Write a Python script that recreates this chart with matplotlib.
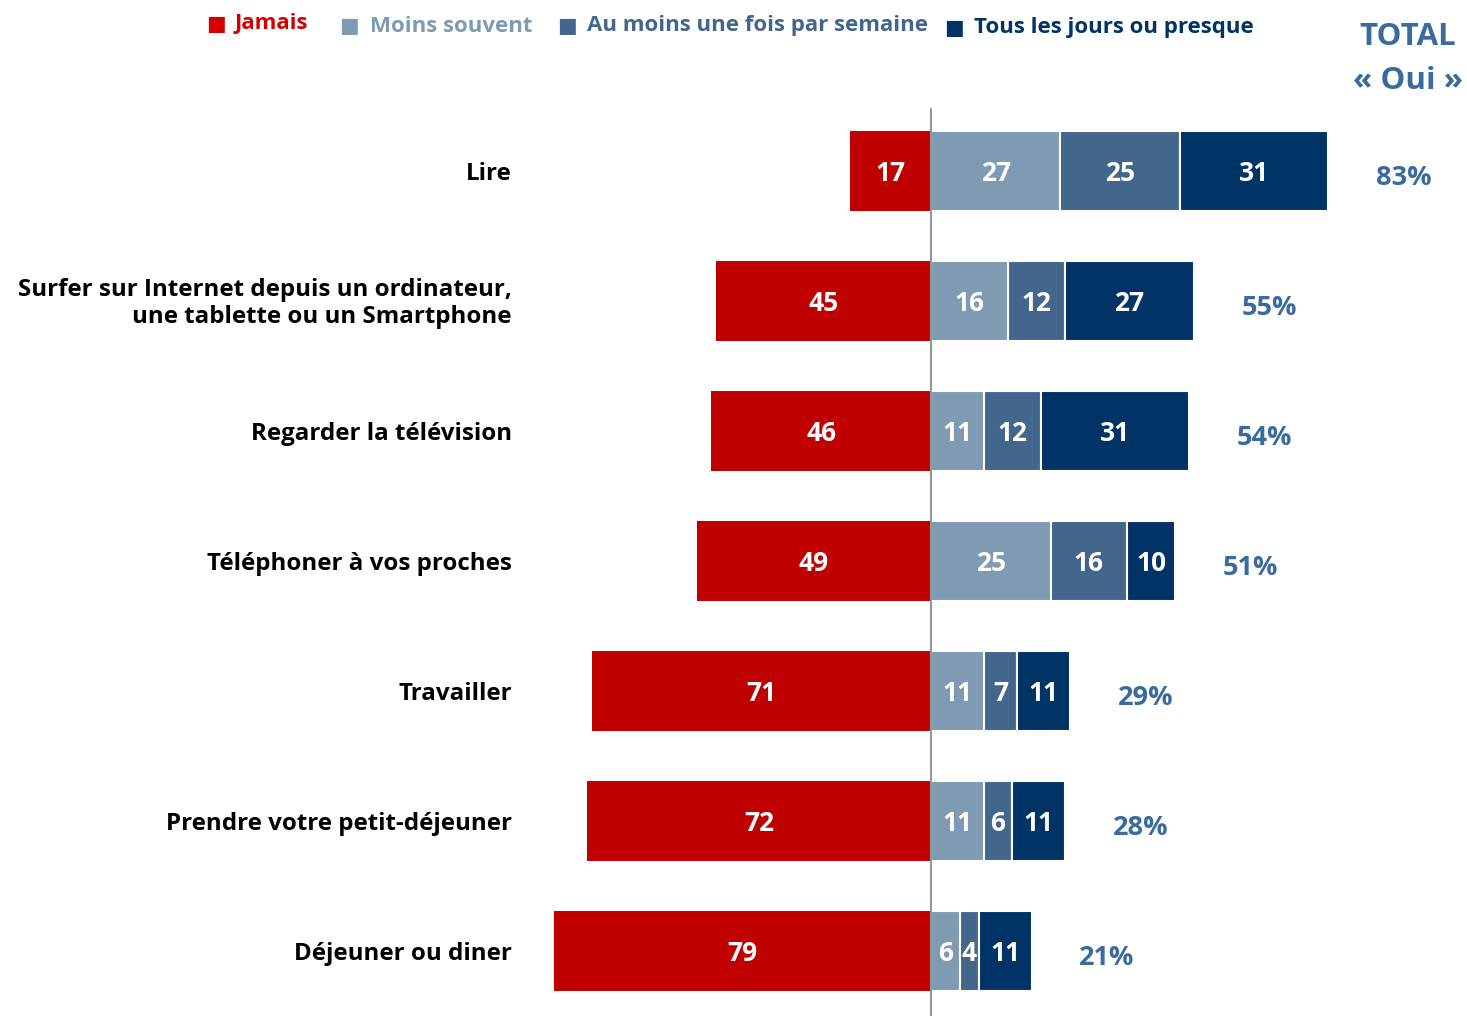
import matplotlib
matplotlib.use('Agg')
import matplotlib.pyplot as plt
import numpy as np

plt.rcParams['font.family'] = ['Open Sans', 'DejaVu Sans']

# Data
activities = ["Lire",
              "Surfer sur Internet depuis un ordinateur,\nune tablette ou un Smartphone",
              "Regarder la télévision",
              "Téléphoner à vos proches",
              "Travailler",
              "Prendre votre petit-déjeuner",
              "Déjeuner ou diner"]
jamais = [17, 45, 46, 49, 71, 72, 79]
moins_souvent = [27, 16, 11, 25, 11, 11, 6]
semaine = [25, 12, 12, 16, 7, 6, 4]
tous_les_jours = [31, 27, 31, 10, 11, 11, 11]
total_oui = [83, 55, 54, 51, 29, 28, 21]

series_names = ["Jamais", "Moins souvent", "Au moins une fois par semaine", "Tous les jours ou presque"]
colors = ["#C00000", "#7F9AB3", "#42668C", "#003366"]
legend_colors = ["#D40000", "#7F9AB3", "#42668C", "#003366"]
total_color = "#3A6A9E"

fig = plt.figure(figsize=(14.67, 10.16), dpi=100)
ax = fig.add_axes([0, 0, 1, 1])
ax.set_xlim(-194.8, 112.1)
ax.set_ylim(6.5, -1.315)
ax.axis('off')

y = np.arange(len(activities))
h = 0.615

# Jamais drawn to the left of the centre line
b = ax.barh(y, [-v for v in jamais], height=h, color=colors[0], edgecolor='none')
txts = ax.bar_label(b, labels=[str(v) for v in jamais], label_type='center',
                    color='white', fontsize=19, fontweight='bold')
for t in txts:
    t.set_va('center_baseline')

# positive side stacked
left = np.zeros(len(activities))
for vals, col in zip([moins_souvent, semaine, tous_les_jours], colors[1:]):
    b = ax.barh(y, vals, left=left, height=h, color=col, edgecolor='white', linewidth=1.5)
    txts = ax.bar_label(b, labels=[str(v) for v in vals], label_type='center',
                        color='white', fontsize=19, fontweight='bold')
    for t in txts:
        t.set_va('center_baseline')
    left += np.array(vals)

# centre line
ax.plot([0, 0], [-0.48, 6.5], color='#808080', linewidth=1.2, zorder=5)

# activity labels
for i, name in enumerate(activities):
    ax.text(-87.7, i + 0.02, name, ha='right', va='center', fontsize=17.4,
            fontweight='bold', color='black', linespacing=1.15)

# total "Oui"
for i, t in enumerate(total_oui):
    ax.text(t + 10, i + 0.03, f"{t}%", ha='left', va='center_baseline', fontsize=19.5,
            fontweight='bold', color=total_color)

fig.text(1408 / 1467, 1 - 37 / 1016, "TOTAL", ha='center', va='center',
         fontsize=22.5, fontweight='bold', color=total_color)
fig.text(1408 / 1467, 1 - 81 / 1016, "« Oui »", ha='center', va='center',
         fontsize=22.5, fontweight='bold', color=total_color)

# legend
sq_x = [216, 349, 567, 954]
tx_x = [235, 370, 587, 974]
leg_y = [24, 26, 26, 28]
for name, col, sx, tx, ly in zip(series_names, legend_colors, sq_x, tx_x, leg_y):
    fig.text(sx / 1467, 1 - ly / 1016, "■", ha='center', va='center',
             fontsize=15, color=col, family='DejaVu Sans')
    fig.text(tx / 1467, 1 - ly / 1016, name, ha='left', va='center',
             fontsize=16, fontweight='bold', color=col)

fig.savefig('out.png', dpi=100)
